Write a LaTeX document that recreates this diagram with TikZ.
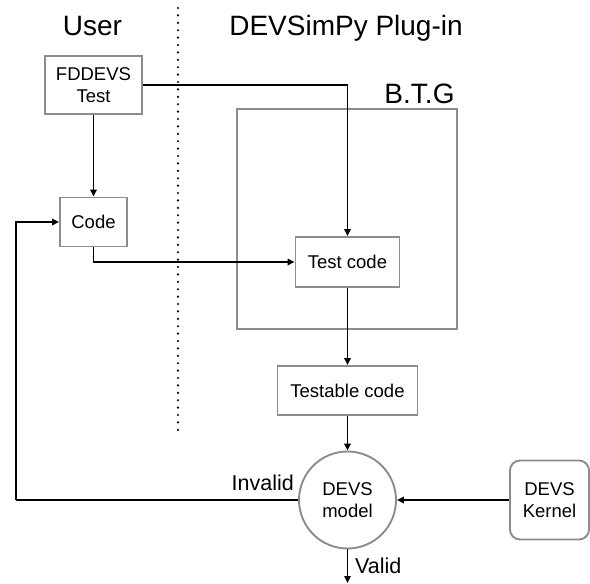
\documentclass[tikz,border=0pt]{standalone}
\usepackage{fontspec}
\setmainfont{Liberation Sans}
\usetikzlibrary{arrows.meta}

\tikzset{
  box/.style={draw=black!45, line width=1.9pt, fill=white, inner sep=0pt,
              align=center, font=\fontsize{18.5}{22}\selectfont},
  roundbox/.style={box, rounded corners=10pt},
  modelnode/.style={circle, draw=black!45, line width=1.9pt, fill=white,
              inner sep=0pt, minimum size=97pt, align=center,
              font=\fontsize{18.5}{22}\selectfont},
  flow/.style={draw=black, line width=1.6pt,
              -{Triangle[length=7pt,width=6.5pt]}},
  plain/.style={draw=black, line width=1.6pt},
  heading/.style={font=\fontsize{28}{32}\selectfont, anchor=base, inner sep=0pt},
  tag/.style={font=\fontsize{21.5}{24}\selectfont, inner sep=0pt},
  group/.style={draw=black!45, line width=1.9pt},
  divider/.style={draw=black, line width=2.4pt, line cap=round,
              dash pattern=on 0pt off 7.4pt}
}

\begin{document}
\begin{tikzpicture}[x=1pt, y=-1pt]
  \useasboundingbox (0,0) rectangle (590,584);

  % column headings and the separator between them
  \node[heading] (huser) at (92.5,35) {User};
  \node[heading] (hplug) at (346,35) {DEVSimPy Plug-in};
  \draw[divider] (178,8) -- (178,432);

  % B.T.G group frame
  \draw[group] (237,109) rectangle (457,329);
  \node[heading] (btg) at (419.5,103) {B.T.G};

  % process boxes
  \node[box, minimum width=97pt, minimum height=58pt] (fddevs) at (93.5,85) {FDDEVS\\Test};
  \node[box, minimum width=67pt, minimum height=49pt] (code) at (93.5,222) {Code};
  \node[box, minimum width=104pt, minimum height=50pt] (testcode) at (347.5,262) {Test code};
  \node[box, minimum width=140pt, minimum height=49pt] (testable) at (347.5,390.5) {Testable code};
  \node[modelnode] (model) at (347.5,500) {DEVS\\model};
  \node[roundbox, minimum width=79pt, minimum height=79pt] (kernel) at (549.5,500) {DEVS\\Kernel};

  % loose ends of connectors
  \coordinate (back) at (16,500);
  \coordinate (out) at (347.5,583);

  % connectors
  \draw[flow] (fddevs.south) -- (code.north);
  \draw[flow] (fddevs.east) -| (testcode.north);
  \draw[flow] (code.south) |- (testcode.west);
  \draw[flow] (testcode.south) -- (testable.north);
  \draw[flow] (testable.south) -- (model.north);
  \draw[flow] (kernel.west) -- (model.east);
  \draw[plain] (model.west) -- (back);
  \draw[flow] (back) |- (code.west);
  \draw[flow] (model.south) -- (out);

  % outcome labels
  \node[tag, anchor=base east] (invalid) at (294,490) {Invalid};
  \node[tag, anchor=base west] (valid) at (355,573) {Valid};
\end{tikzpicture}
\end{document}
